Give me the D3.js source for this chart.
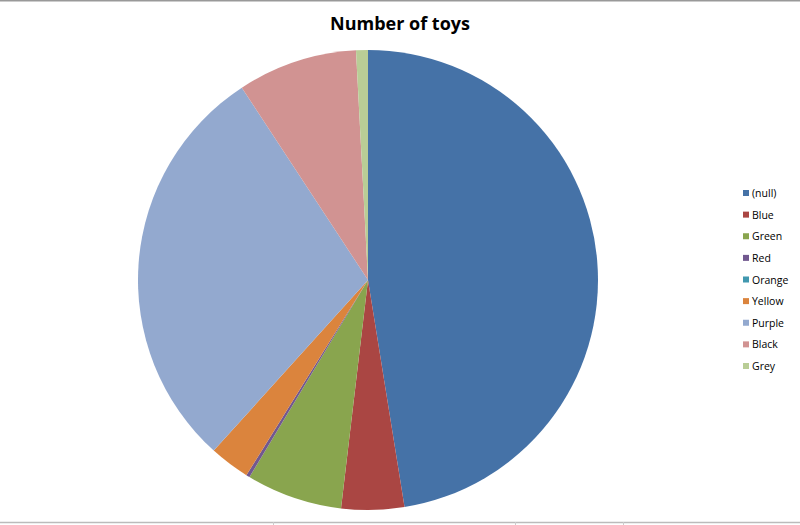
<!DOCTYPE html>
<html><head><meta charset="utf-8">
<script src="https://cdn.jsdelivr.net/npm/d3@7"></script>
<style>body{margin:0;background:#fff}svg{display:block}</style>
</head><body>
<svg id="c" width="800" height="525"></svg>
<script>
const categories = ["(null)","Blue","Green","Red","Orange","Yellow","Purple","Black","Grey"];
const values = [570, 53, 81, 3, 0, 34, 349, 101, 10];
const colors = ["#4572A7","#AA4643","#89A54E","#71588F","#4198AF","#DB843D","#93A9CF","#D19392","#B9CD96"];
const title = "Number of toys";

const svg = d3.select("#c");
const W = 800, H = 525;
const data = categories.map((c,i)=>({name:c, value:values[i], color:colors[i]}));

// frame lines
svg.append("line").attr("x1",0).attr("x2",W).attr("y1",0.5).attr("y2",0.5).attr("stroke","#999").attr("stroke-width",2);
svg.append("line").attr("x1",0).attr("x2",W).attr("y1",522.5).attr("y2",522.5).attr("stroke","#bbb").attr("stroke-width",1.5);
[273,515,623].forEach(x=>svg.append("line").attr("x1",x+0.5).attr("x2",x+0.5).attr("y1",522).attr("y2",525).attr("stroke","#ccc"));

svg.append("text").attr("x",400).attr("y",30).attr("text-anchor","middle")
  .attr("font-family","'Open Sans', 'Liberation Sans', sans-serif").attr("font-weight","bold")
  .attr("font-size",18).attr("fill","#000").text(title);

const cx = 368, cy = 280, r = 230;
const pie = d3.pie().value(d=>d.value).sort(null);
const arc = d3.arc().innerRadius(0).outerRadius(r);
svg.append("g").attr("transform",`translate(${cx},${cy})`)
  .selectAll("path").data(pie(data)).join("path")
  .attr("d",arc).attr("fill",d=>d.data.color);

const y = d3.scalePoint().domain(categories).range([193,366]);
const lg = svg.append("g");
lg.selectAll("rect").data(data).join("rect")
  .attr("x",743).attr("y",d=>y(d.name)-3).attr("width",6).attr("height",6).attr("fill",d=>d.color);
lg.selectAll("text").data(data).join("text")
  .attr("x",752).attr("y",d=>y(d.name)+4)
  .attr("font-family","'Open Sans', 'Liberation Sans', sans-serif").attr("font-size",10.5).attr("fill","#000")
  .text(d=>d.name);
</script>
</body></html>
